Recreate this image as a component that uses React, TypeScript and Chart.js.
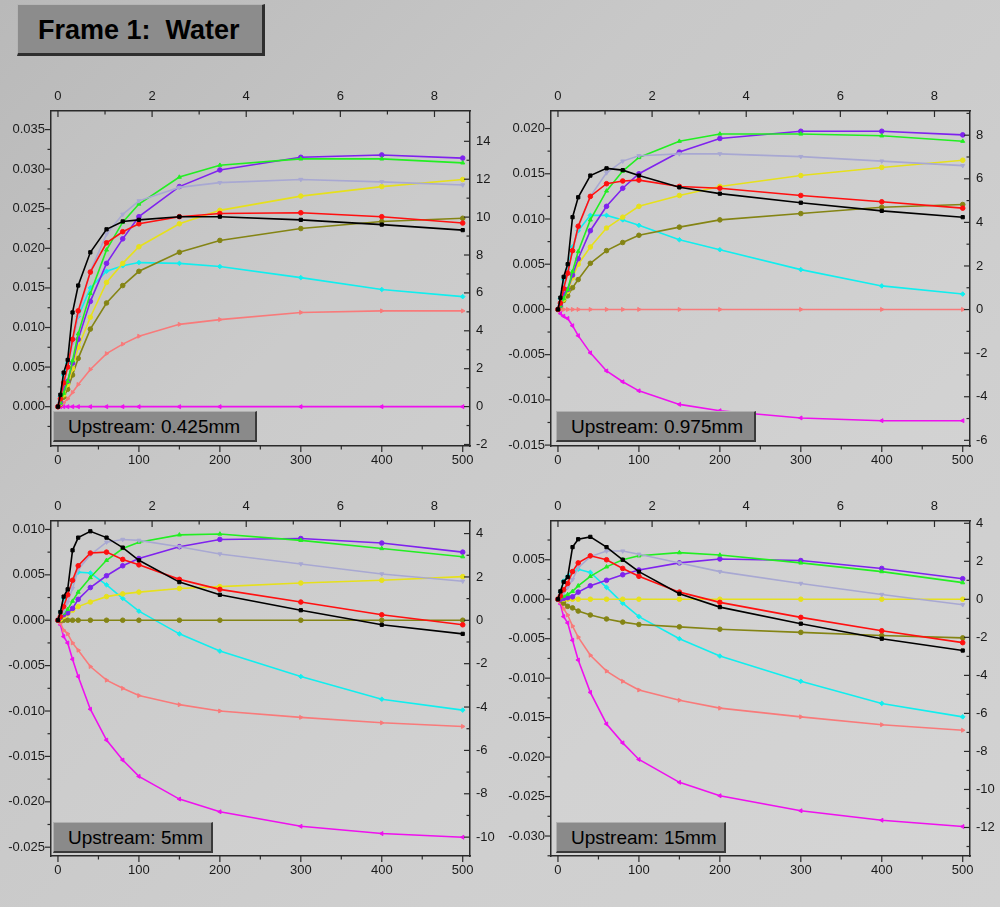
import { useEffect, useRef } from 'react';
import Chart from 'chart.js/auto';

// x positions (mm downstream), shared by every panel
const xValues = [0, 3, 7, 12, 18, 25, 40, 60, 80, 100, 150, 200, 300, 400, 500];

// Upstream 0.425mm
const black1 = [0, 0.0015, 0.0043, 0.0059, 0.0119, 0.0153, 0.0195, 0.0224, 0.0234, 0.0236, 0.024, 0.024, 0.0236, 0.023, 0.0223];
const red1 = [0, 0.001, 0.003, 0.005, 0.0085, 0.0121, 0.017, 0.0207, 0.0221, 0.0231, 0.024, 0.0244, 0.0245, 0.024, 0.0232];
const lavender1 = [0, 0.001, 0.003, 0.005, 0.008, 0.0115, 0.0171, 0.0218, 0.0243, 0.026, 0.0277, 0.0283, 0.0287, 0.0284, 0.028];
const green1 = [0, 0.0005, 0.0017, 0.0032, 0.0058, 0.0092, 0.0143, 0.0198, 0.0233, 0.0256, 0.029, 0.0305, 0.0313, 0.0313, 0.0308];
const purple1 = [0, 0.0005, 0.0023, 0.0032, 0.0055, 0.0085, 0.0133, 0.0181, 0.0212, 0.024, 0.0278, 0.0299, 0.0315, 0.0318, 0.0314];
const yellow1 = [0, 0.0004, 0.0015, 0.0028, 0.0048, 0.0075, 0.0113, 0.0157, 0.0181, 0.0202, 0.0231, 0.0248, 0.0266, 0.0278, 0.0287];
const olive1 = [0, 0.0003, 0.0012, 0.0022, 0.004, 0.0061, 0.0098, 0.0131, 0.0153, 0.0171, 0.0195, 0.021, 0.0225, 0.0234, 0.0238];
const cyan1 = [0, 0.0013, 0.004, 0.0055, 0.0086, 0.0114, 0.015, 0.0171, 0.0178, 0.0182, 0.0181, 0.0177, 0.0163, 0.0148, 0.0139];
const salmon1 = [0, 0.0001, 0.0005, 0.001, 0.0018, 0.0028, 0.0047, 0.0067, 0.0079, 0.0089, 0.0104, 0.011, 0.0119, 0.0121, 0.0121];
const magenta1 = [0, 0, 0, 0, 0, 0, 0, 0, 0, 0, 0, 0, 0, 0, 0];

// Upstream 0.975mm
const black2 = [0, 0.0013, 0.0036, 0.005, 0.0102, 0.0124, 0.0148, 0.0156, 0.0154, 0.0148, 0.0135, 0.0128, 0.0118, 0.0109, 0.0102];
const red2 = [0, 0.0007, 0.0023, 0.004, 0.0065, 0.0092, 0.0125, 0.0139, 0.0142, 0.0143, 0.0136, 0.0134, 0.0126, 0.0119, 0.0112];
const lavender2 = [0, 0.0008, 0.0025, 0.0042, 0.0065, 0.009, 0.0125, 0.0151, 0.0164, 0.017, 0.0172, 0.0172, 0.0169, 0.0164, 0.0159];
const green2 = [0, 0.0004, 0.0012, 0.0022, 0.0042, 0.0064, 0.0099, 0.0131, 0.0153, 0.0168, 0.0186, 0.0194, 0.0194, 0.0192, 0.0186];
const purple2 = [0, 0.0004, 0.0017, 0.0022, 0.0038, 0.0056, 0.0087, 0.0114, 0.0134, 0.015, 0.0174, 0.0189, 0.0197, 0.0197, 0.0193];
const yellow2 = [0, 0.0003, 0.0011, 0.002, 0.0035, 0.005, 0.0069, 0.009, 0.0102, 0.0114, 0.0126, 0.0136, 0.0148, 0.0157, 0.0165];
const olive2 = [0, 0.0003, 0.001, 0.0015, 0.0024, 0.0033, 0.0051, 0.0065, 0.0074, 0.0082, 0.0091, 0.0099, 0.0106, 0.0113, 0.0116];
const cyan2 = [0, 0.0012, 0.0033, 0.0044, 0.0069, 0.0087, 0.0104, 0.0104, 0.0099, 0.0093, 0.0077, 0.0066, 0.0044, 0.0026, 0.0017];
const salmon2 = [0, 0, 0, 0, 0, 0, 0, 0, 0, 0, 0, 0, 0, 0, 0];
const magenta2 = [0, -0.00045, -0.00075, -0.001, -0.0018, -0.0029, -0.0048, -0.0068, -0.008, -0.009, -0.0105, -0.0112, -0.012, -0.0123, -0.0123];

// Upstream 5mm
const black3 = [0, 0.0009, 0.0026, 0.0034, 0.0077, 0.0091, 0.0098, 0.0091, 0.008, 0.0066, 0.0042, 0.0028, 0.0011, -0.0005, -0.0015];
const red3 = [0, 0.0004, 0.0015, 0.0028, 0.0044, 0.006, 0.0074, 0.0075, 0.0067, 0.0061, 0.0045, 0.0034, 0.002, 0.0006, -0.0005];
const lavender3 = [0, 0.0003, 0.001, 0.002, 0.0035, 0.0056, 0.0072, 0.0086, 0.0089, 0.0088, 0.0081, 0.0073, 0.0062, 0.0051, 0.0043];
const green3 = [0, 0.0003, 0.0008, 0.0012, 0.0021, 0.0031, 0.0047, 0.0066, 0.0079, 0.0086, 0.0094, 0.0095, 0.0088, 0.0079, 0.007];
const purple3 = [0, 0.0003, 0.0006, 0.0008, 0.0013, 0.0023, 0.0036, 0.0049, 0.006, 0.0068, 0.0081, 0.0089, 0.009, 0.0085, 0.0075];
const yellow3 = [0, 0.0001, 0.0004, 0.0007, 0.0011, 0.0015, 0.002, 0.0026, 0.0029, 0.0031, 0.0035, 0.0037, 0.0041, 0.0044, 0.0048];
const olive3 = [0, 0, 0, 0, 0, 0, 0, 0, 0, 0, 0, 0, 0, 0, 0];
const cyan3 = [0, 0.0009, 0.0024, 0.0029, 0.0043, 0.0053, 0.0052, 0.0039, 0.0024, 0.001, -0.0015, -0.0034, -0.0062, -0.0087, -0.0099];
const salmon3 = [0, -0.0003, -0.0011, -0.0015, -0.0025, -0.0033, -0.0051, -0.0066, -0.0075, -0.0083, -0.0093, -0.01, -0.0107, -0.0113, -0.0117];
const magenta3 = [0, -0.0005, -0.0018, -0.0025, -0.0043, -0.0062, -0.0098, -0.0132, -0.0154, -0.0172, -0.0197, -0.0211, -0.0227, -0.0235, -0.0239];

// Upstream 15mm
const black4 = [0, 0.001, 0.0022, 0.0028, 0.0066, 0.0076, 0.0079, 0.0066, 0.005, 0.0035, 0.0007, -0.001, -0.0031, -0.005, -0.0065];
const red4 = [0, 0.0004, 0.0012, 0.002, 0.0035, 0.0046, 0.0055, 0.005, 0.0039, 0.0029, 0.0009, -0.0004, -0.0023, -0.004, -0.0055];
const lavender4 = [0, 0.0003, 0.0008, 0.0015, 0.0025, 0.004, 0.0054, 0.0061, 0.0061, 0.0057, 0.0046, 0.0035, 0.002, 0.0006, -0.0007];
const green4 = [0, 0.0002, 0.0004, 0.0006, 0.001, 0.0017, 0.0029, 0.0041, 0.005, 0.0055, 0.0059, 0.0056, 0.0046, 0.0035, 0.0021];
const purple4 = [0, 0, 0.0001, 0.0002, 0.0003, 0.0009, 0.0017, 0.0024, 0.0031, 0.0037, 0.0046, 0.0051, 0.0049, 0.0039, 0.0026];
const yellow4 = [0, 0, 0, 0, 0, 0, 0, 0, 0, 0, 0, 0, 0, 0, 0];
const olive4 = [0, -0.0001, -0.0005, -0.0009, -0.0011, -0.0015, -0.002, -0.0025, -0.0029, -0.0032, -0.0035, -0.0038, -0.0042, -0.0046, -0.0049];
const cyan4 = [0, 0.0009, 0.0023, 0.0029, 0.0035, 0.0038, 0.0034, 0.0015, -0.0005, -0.0022, -0.005, -0.0072, -0.0104, -0.0132, -0.0149];
const salmon4 = [0, -0.0003, -0.0012, -0.002, -0.0034, -0.0048, -0.0071, -0.0091, -0.0104, -0.0115, -0.0128, -0.0138, -0.0149, -0.0159, -0.0166];
const magenta4 = [0, -0.0006, -0.0022, -0.003, -0.0052, -0.0077, -0.0118, -0.0158, -0.0182, -0.0203, -0.0232, -0.0249, -0.0268, -0.028, -0.0288];

const panelLabels = ['Upstream: 0.425mm', 'Upstream: 0.975mm', 'Upstream: 5mm', 'Upstream: 15mm'];

// line styles, same order as the series in every panel
const seriesStyles = [
  { color: '#000000', point: 'rect', rot: 0 },
  { color: '#ff1010', point: 'circle', rot: 0 },
  { color: '#a8a8d2', point: 'triangle', rot: 180 },
  { color: '#22ee22', point: 'triangle', rot: 0 },
  { color: '#7f22ee', point: 'circle', rot: 0 },
  { color: '#e6e01c', point: 'circle', rot: 0 },
  { color: '#848414', point: 'circle', rot: 0 },
  { color: '#11eeee', point: 'rectRot', rot: 0 },
  { color: '#f87a7a', point: 'triangle', rot: 90 },
  { color: '#ee11ee', point: 'triangle', rot: 270 },
];

const panelSeries = [
  [black1, red1, lavender1, green1, purple1, yellow1, olive1, cyan1, salmon1, magenta1],
  [black2, red2, lavender2, green2, purple2, yellow2, olive2, cyan2, salmon2, magenta2],
  [black3, red3, lavender3, green3, purple3, yellow3, olive3, cyan3, salmon3, magenta3],
  [black4, red4, lavender4, green4, purple4, yellow4, olive4, cyan4, salmon4, magenta4],
];

// axis ranges per panel
const leftRanges = [
  [-0.00497, 0.03735],
  [-0.0151, 0.02194],
  [-0.02597, 0.01093],
  [-0.03253, 0.00991],
];
const rightRanges = [
  [-2.08, 15.6],
  [-6.26, 9.11],
  [-10.87, 4.58],
  [-13.5, 4.12],
];
const xRange = [-8.6, 509];
const topRange = [-8.6 / 58.14, 509 / 58.14];

const FONT = '"Liberation Sans", Arial, sans-serif';

type TickSpec = { major: number; minor: number; dir: number };

const makeTickPlugin = (spec: Record<string, TickSpec>) => ({
  id: 'originTicks',
  beforeDraw(chart: any) {
    const { ctx, chartArea } = chart;
    ctx.save();
    ctx.fillStyle = 'rgba(255,255,255,0.07)';
    ctx.fillRect(chartArea.left, chartArea.top, chartArea.right - chartArea.left, chartArea.bottom - chartArea.top);
    ctx.restore();
  },
  afterDraw(chart: any) {
    const ctx = chart.ctx;
    ctx.save();
    ctx.strokeStyle = '#2a2a2a';
    ctx.lineWidth = 1.2;
    Object.keys(spec).forEach((id) => {
      const s = chart.scales[id];
      const t = spec[id];
      const first = Math.ceil(s.min / t.minor - 1e-6);
      const last = Math.floor(s.max / t.minor + 1e-6);
      for (let i = first; i <= last; i++) {
        const v = i * t.minor;
        const r = v / t.major;
        const isMajor = Math.abs(r - Math.round(r)) < 1e-6;
        const len = isMajor ? 6 : 3.5;
        const p = s.getPixelForValue(v);
        ctx.beginPath();
        if (s.isHorizontal()) {
          const y0 = s.position === 'top' ? s.bottom : s.top;
          ctx.moveTo(p, y0);
          ctx.lineTo(p, y0 + t.dir * len);
        } else {
          const x0 = s.position === 'left' ? s.right : s.left;
          ctx.moveTo(x0, p);
          ctx.lineTo(x0 + t.dir * len, p);
        }
        ctx.stroke();
      }
    });
    ctx.restore();
  },
});

const tickFont = { family: FONT, size: 13 };
const border = { display: true, color: '#2a2a2a', width: 1.5 };
const noGrid = { display: false, drawTicks: false };

const Panel = ({ index, left, top }: { index: number; left: number; top: number }) => {
  const canvasRef = useRef<HTMLCanvasElement | null>(null);
  const chartRef = useRef<Chart | null>(null);

  useEffect(() => {
    if (!canvasRef.current) return;
    const ctx = canvasRef.current.getContext('2d');
    if (!ctx) return;
    if (chartRef.current) chartRef.current.destroy();

    const datasets = panelSeries[index].map((values, i) => {
      const st = seriesStyles[i];
      return {
        label: st.color,
        data: values.map((y, j) => ({ x: xValues[j], y })),
        borderColor: st.color,
        backgroundColor: st.color,
        borderWidth: 1.6,
        pointStyle: st.point as any,
        pointRotation: st.rot,
        pointRadius: 2.3,
        pointBorderWidth: 1,
        tension: 0,
        xAxisID: 'x',
        yAxisID: 'y',
      };
    });

    const [yMin, yMax] = leftRanges[index];
    const [rMin, rMax] = rightRanges[index];

    chartRef.current = new Chart(ctx, {
      type: 'line',
      data: { datasets },
      options: {
        animation: false,
        responsive: false,
        maintainAspectRatio: false,
        layout: { padding: 0 },
        plugins: { legend: { display: false }, tooltip: { enabled: false } },
        scales: {
          x: {
            type: 'linear',
            position: 'bottom',
            min: xRange[0],
            max: xRange[1],
            grid: noGrid,
            border,
            ticks: {
              stepSize: 100,
              includeBounds: false,
              padding: 7,
              maxRotation: 0,
              color: '#1a1a1a',
              font: tickFont,
            },
            afterFit: (s: any) => {
              s.height = 34;
            },
          },
          x2: {
            type: 'linear',
            position: 'top',
            min: topRange[0],
            max: topRange[1],
            grid: noGrid,
            border,
            ticks: {
              stepSize: 2,
              includeBounds: false,
              padding: 7,
              maxRotation: 0,
              color: '#1a1a1a',
              font: tickFont,
            },
            afterFit: (s: any) => {
              s.height = 31;
            },
          },
          y: {
            type: 'linear',
            position: 'left',
            min: yMin,
            max: yMax,
            grid: noGrid,
            border,
            ticks: {
              stepSize: 0.005,
              includeBounds: false,
              padding: 6,
              color: '#1a1a1a',
              font: tickFont,
              callback: (v: any) => {
                const n = Math.abs(Number(v)) < 1e-9 ? 0 : Number(v);
                return n.toFixed(3);
              },
            },
            afterFit: (s: any) => {
              s.width = 51;
            },
          },
          y2: {
            type: 'linear',
            position: 'right',
            min: rMin,
            max: rMax,
            grid: noGrid,
            border,
            ticks: {
              stepSize: 2,
              includeBounds: false,
              padding: 6,
              color: '#1a1a1a',
              font: tickFont,
              callback: (v: any) => String(Math.round(Number(v))),
            },
            afterFit: (s: any) => {
              s.width = 30;
            },
          },
        },
      },
      plugins: [
        makeTickPlugin({
          x: { major: 100, minor: 50, dir: 1 },
          x2: { major: 2, minor: 1, dir: 1 },
          y: { major: 0.005, minor: 0.0025, dir: -1 },
          y2: { major: 2, minor: 1, dir: -1 },
        }),
      ],
    } as any);

    return () => {
      if (chartRef.current) {
        chartRef.current.destroy();
        chartRef.current = null;
      }
    };
  }, [index]);

  const wide = index < 2;
  return (
    <div style={{ position: 'absolute', left, top, width: 500, height: 400 }}>
      <canvas ref={canvasRef} width={500} height={400} style={{ width: 500, height: 400 }} />
      <div
        style={{
          position: 'absolute',
          left: index % 2 === 0 ? 53 : 56,
          top: wide ? 331 : 332,
          width: index === 0 ? 204 : index === 1 ? 200 : index === 2 ? 160 : 170,
          height: 31,
          boxSizing: 'border-box',
          background: '#8a8a8a',
          borderTop: '1px solid #b0b0b0',
          borderLeft: '1px solid #b0b0b0',
          borderRight: '2px solid #3a3a3a',
          borderBottom: '2px solid #3a3a3a',
          font: `19px ${FONT}`,
          color: '#000',
          lineHeight: '29px',
          paddingLeft: 14,
          whiteSpace: 'nowrap',
        }}
      >
        {panelLabels[index]}
      </div>
    </div>
  );
};

const App = () => {
  return (
    <div
      style={{
        position: 'absolute',
        left: 0,
        top: 0,
        width: 1000,
        height: 907,
        overflow: 'hidden',
        background: 'linear-gradient(135deg, #b9b9b9 0%, #c8c8c8 35%, #cfcfcf 70%, #d2d2d2 100%)',
      }}
    >
      <div
        style={{
          position: 'absolute',
          left: 17,
          top: 4,
          width: 248,
          height: 52,
          boxSizing: 'border-box',
          background: '#8c8c8c',
          borderTop: '1px solid #b5b5b5',
          borderLeft: '1px solid #b5b5b5',
          borderRight: '3px solid #2e2e2e',
          borderBottom: '3px solid #2e2e2e',
          font: `bold 27px ${FONT}`,
          color: '#000',
          lineHeight: '50px',
          paddingLeft: 20,
          whiteSpace: 'pre',
        }}
      >
        {'Frame 1:  Water'}
      </div>
      <Panel index={0} left={0} top={80} />
      <Panel index={1} left={500} top={80} />
      <Panel index={2} left={0} top={490} />
      <Panel index={3} left={500} top={490} />
    </div>
  );
};

export default App;
